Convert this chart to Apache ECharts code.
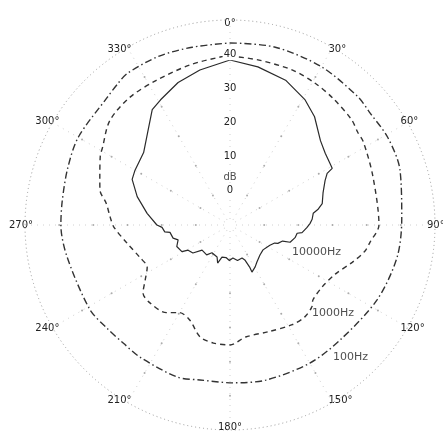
<!DOCTYPE html>
<html><head><meta charset="utf-8">
<script src="https://cdn.jsdelivr.net/npm/echarts@6/dist/echarts.min.js"></script>
<style>html,body{margin:0;padding:0;background:#fff}#c{width:443px;height:434px}</style>
</head><body><div id="c"></div>
<script>
// angle ticks (degrees, clockwise from top) and radial ticks (dB)
const angleTicks = [0,30,60,90,120,150,180,210,240,270,300,330];
const radiusTicks = [0,10,20,30,40];
const radiusMin = -10, radiusMax = 50;

// [angle°, dB]
const hz100 = [[0,43.3],[14,43.7],[30,43.5],[45,43.0],[51,42.5],[61,42.8],[72,42.3],[88,40.3],[101,39.8],[117,38.3],[136,36.6],[150,36.7],[167,36.6],[179,36.2],[191,36.2],[199,37.1],[214,36.8],[222,36.6],[230,37.0],[239,37.9],[259,38.6],[270,39.5],[278,39.6],[289,40.3],[300,41.3],[316,41.8],[322,42.9],[326,43.6],[337,43.6],[348,43.2],[360,43.3]];
const hz1000 = [[0,39.5],[10,39.0],[22,38.9],[31,38.4],[39,37.8],[49,37.1],[54,36.2],[58,36.0],[71,34.2],[90,33.6],[97,31.3],[101,30.2],[107,27.4],[115,24.0],[124,22.5],[132,22.7],[135,23.9],[141,24.7],[148,24.4],[160,23.2],[172,23.1],[180,25.1],[188,24.9],[195,23.9],[203,20.2],[210,19.6],[216,21.7],[226,22.7],[232,22.3],[237,19.6],[243,17.2],[250,18.0],[260,20.6],[269,24.0],[274,25.2],[280,26.8],[285,29.4],[289,30.3],[298,33.0],[301,33.6],[311,36.6],[322,37.5],[333,37.5],[346,38.3],[357,39.3],[360,39.5]];
const hz10000 = [[0,38.3],[10,37.0],[21,35.4],[31,32.7],[38,30.2],[47,26.2],[53,24.9],[58,24.4],[61,24.2],[62,22.2],[65,20.7],[71,18.8],[77,17.7],[80,16.1],[82,14.6],[86,14.1],[89,13.4],[92,12.5],[96,11.2],[97,9.8],[101,9.4],[106,8.3],[107,6.1],[111,5.0],[112,4.1],[117,3.1],[121,2.6],[127,2.1],[135,2.4],[144,3.4],[149,4.3],[155,5.2],[155,3.6],[157,1.1],[160,0.3],[168,0.6],[175,-0.3],[181,0.4],[187,-0.4],[194,-0.3],[198,1.7],[202,0.1],[213,-0.3],[218,1.1],[228,1.0],[233,3.6],[239,4.3],[241,6.1],[248,6.8],[254,5.8],[257,7.1],[263,7.7],[264,9.2],[268,9.9],[270,11.4],[278,14.5],[287,18.4],[295,21.6],[300,22.1],[310,23.0],[318,26.1],[326,30.7],[331,31.9],[340,34.4],[349,36.2],[360,38.3]];

// text annotations: [angle°, dB, text]
const curveLabels = [[113.5,9.8,'10000Hz'],[137,25.2,'1000Hz'],[142,39,'100Hz']];
const unitLabel = [0,4,'dB'];

const toPolar = arr => arr.map(p => [p[1], p[0]]);
const gridDots = [];
radiusTicks.forEach(r => angleTicks.forEach(a => gridDots.push([r, a])));

const txt = '#222';
const font = 'DejaVu Sans';
const chart = echarts.init(document.getElementById('c'));
chart.setOption({
  animation: false,
  backgroundColor: '#fff',
  polar: { center: [230, 225], radius: 205 },
  angleAxis: {
    type: 'value', min: 0, max: 360, interval: 30, startAngle: 90, clockwise: true,
    axisLine: { show: true, lineStyle: { color: '#9a9a9a', width: 1, type: [1, 3] } },
    axisTick: { show: false },
    splitLine: { show: true, lineStyle: { color: '#d0d0d0', width: 1, type: [1, 5] } },
    axisLabel: { margin: -8, color: txt, fontSize: 10, fontFamily: font, backgroundColor: '#fff',
      formatter: v => v + '°' }
  },
  radiusAxis: {
    type: 'value', min: radiusMin, max: radiusMax, interval: 10,
    axisLine: { show: false }, axisTick: { show: false },
    splitLine: { show: false },
    axisLabel: { margin: 0, align: 'center', verticalAlign: 'middle', color: txt, fontSize: 10, fontFamily: font,
      backgroundColor: '#fff', padding: [1, 1],
      formatter: v => radiusTicks.indexOf(v) >= 0 ? String(v) : '' },
    z: 5
  },
  series: [
    { type: 'scatter', coordinateSystem: 'polar', data: gridDots, symbolSize: 2, silent: true,
      itemStyle: { color: '#999' }, z: 1 },
    { name: '100Hz', type: 'line', coordinateSystem: 'polar', data: toPolar(hz100), showSymbol: false, smooth: 0.3,
      lineStyle: { color: '#333', width: 1.4, type: [7, 3, 1.5, 3] }, z: 3 },
    { name: '1000Hz', type: 'line', coordinateSystem: 'polar', data: toPolar(hz1000), showSymbol: false, smooth: 0.3,
      lineStyle: { color: '#333', width: 1.4, type: [5, 4] }, z: 3 },
    { name: '10000Hz', type: 'line', coordinateSystem: 'polar', data: toPolar(hz10000), showSymbol: false, smooth: false,
      lineStyle: { color: '#2a2a2a', width: 1.2 }, z: 3 },
    { type: 'scatter', coordinateSystem: 'polar', symbolSize: 0, silent: true, z: 6,
      data: curveLabels.map(l => ({ value: [l[1], l[0]], name: l[2] })),
      label: { show: true, position: 'right', distance: 0, formatter: p => p.name, color: txt, fontSize: 11, fontFamily: font,
        backgroundColor: '#fff' } },
    { type: 'scatter', coordinateSystem: 'polar', symbolSize: 0, silent: true, z: 6,
      data: [{ value: [unitLabel[1], unitLabel[0]], name: unitLabel[2] }],
      label: { show: true, position: 'inside', formatter: p => p.name, color: txt, fontSize: 10, fontFamily: font,
        backgroundColor: '#fff' } }
  ]
});
</script></body></html>
